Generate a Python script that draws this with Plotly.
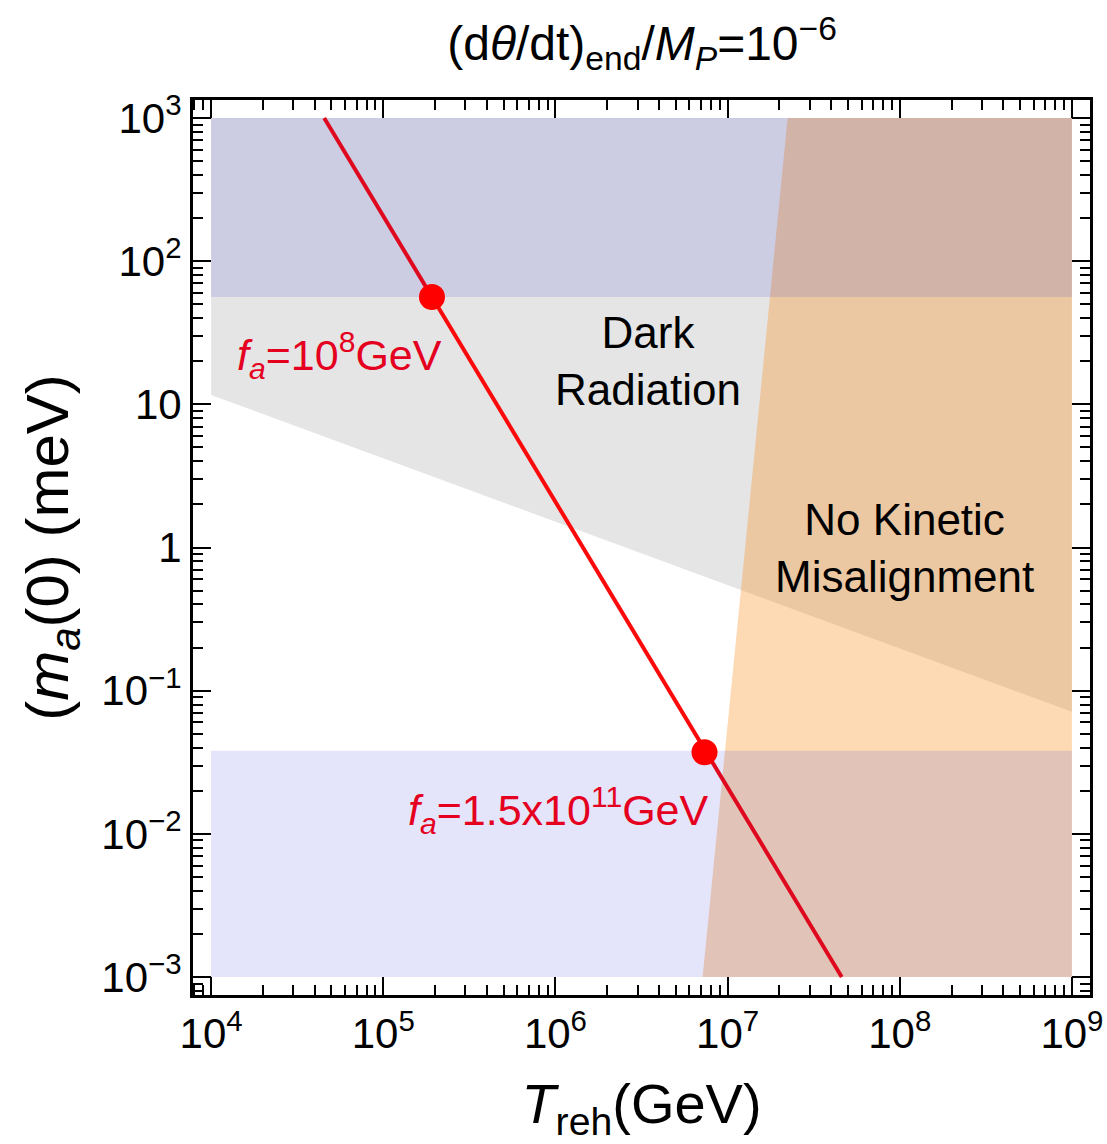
import plotly.graph_objects as go

# ---- data (log10 values) ----
x_ticks = [1e4, 1e5, 1e6, 1e7, 1e8, 1e9]
x_ticktext = ["10<sup>4</sup>", "10<sup>5</sup>", "10<sup>6</sup>", "10<sup>7</sup>", "10<sup>8</sup>", "10<sup>9</sup>"]
y_ticks = [1e3, 1e2, 1e1, 1, 1e-1, 1e-2, 1e-3]
y_ticktext = ["10<sup>3</sup>", "10<sup>2</sup>", "10", "1", "10<sup>−1</sup>", "10<sup>−2</sup>", "10<sup>−3</sup>"]
x_minor = [k * 10.0**d for d in range(3, 10) for k in range(2, 10)]
y_minor = [k * 10.0**d for d in range(-4, 4) for k in range(2, 10)]

# Dark radiation region (gray)
dr_x = [1e4, 1e9, 1e9, 1e4]
dr_y = [1e3, 1e3, 10**-1.148, 10**1.066]
# No kinetic misalignment region (orange)
nkm_x = [10**7.349, 1e9, 1e9, 10**6.855]
nkm_y = [1e3, 1e3, 1e-3, 1e-3]
# Upper blue band
bu_x = [1e4, 1e9, 1e9, 1e4]
bu_y = [1e3, 1e3, 10**1.75, 10**1.75]
# Lower blue band
bl_x = [1e4, 1e9, 1e9, 1e4]
bl_y = [10**-1.42, 10**-1.42, 1e-3, 1e-3]
# red line
line_x = [10**4.657, 10**7.663]
line_y = [1e3, 1e-3]
# points
pts_x = [10**5.283, 10**6.866]
pts_y = [10**1.75, 10**-1.43]

fig = go.Figure()

def poly(xs, ys, color):
    fig.add_trace(go.Scatter(x=xs + [xs[0]], y=ys + [ys[0]], mode="lines", fill="toself",
                             fillcolor=color, line=dict(width=0), hoverinfo="skip", showlegend=False))

poly(dr_x, dr_y, "rgba(0,0,0,0.10)")
poly(nkm_x, nkm_y, "rgba(248,132,5,0.30)")
fig.add_trace(go.Scatter(x=line_x, y=line_y, mode="lines", line=dict(color="rgb(250,10,10)", width=4),
                         showlegend=False))
poly(bu_x, bu_y, "rgba(10,10,210,0.11)")
poly(bl_x, bl_y, "rgba(10,10,210,0.11)")
fig.add_trace(go.Scatter(x=pts_x, y=pts_y, mode="markers", marker=dict(color="rgb(255,0,0)", size=26),
                         showlegend=False))

font = "Liberation Sans, Arial, sans-serif"
anns = [
    dict(x=6.535, y=1.30, text="Dark<br>Radiation", color="black", size=44),
    dict(x=8.03, y=0.0, text="No Kinetic<br>Misalignment", color="black", size=44),
    dict(x=4.744, y=1.345, text="<i>f<sub>a</sub></i>=10<sup>8</sup>GeV", color="rgb(228,0,30)", size=43),
    dict(x=6.02, y=-1.832, text="<i>f<sub>a</sub></i>=1.5x10<sup>11</sup>GeV", color="rgb(228,0,30)", size=43),
]
for a in anns:
    fig.add_annotation(x=a["x"], y=a["y"], xref="x", yref="y", text=a["text"], showarrow=False,
                       font=dict(family=font, size=a["size"], color=a["color"]))

axis_common = dict(type="log", showgrid=False, zeroline=False, showline=True, linecolor="black", linewidth=3,
                   mirror="ticks", ticks="inside", ticklen=18, tickwidth=2, tickcolor="black", automargin=False,
                   tickfont=dict(family=font, size=42, color="black"))

fig.update_xaxes(**axis_common, range=[3.895, 9.105], tickvals=x_ticks, ticktext=x_ticktext,
                 minor=dict(tickmode="array", tickvals=x_minor, ticks="inside", ticklen=10, tickwidth=2,
                            tickcolor="black", showgrid=False),
                 title=dict(text="<i>T</i><sub>reh</sub>(GeV)", font=dict(family=font, size=56, color="black"),
                            standoff=28))
fig.update_yaxes(**axis_common, range=[-3.126, 3.126], tickvals=y_ticks, ticktext=y_ticktext,
                 minor=dict(tickmode="array", tickvals=y_minor, ticks="inside", ticklen=10, tickwidth=2,
                            tickcolor="black", showgrid=False),
                 title=dict(text="(<i>m<sub>a</sub></i>(0) (meV)", font=dict(family=font, size=60, color="black"),
                            standoff=14))

fig.update_layout(
    width=1107, height=1144,
    margin=dict(l=193, r=17, t=100, b=149),
    plot_bgcolor="white", paper_bgcolor="white",
    title=dict(text="(d<i>θ</i>/dt)<sub>end</sub>/<i>M<sub>P</sub></i>=10<sup>−6</sup>",
               font=dict(family=font, size=48, color="black"), x=0.58, xanchor="center", y=0.962, yanchor="middle"),
)

fig.write_html("out.html")
